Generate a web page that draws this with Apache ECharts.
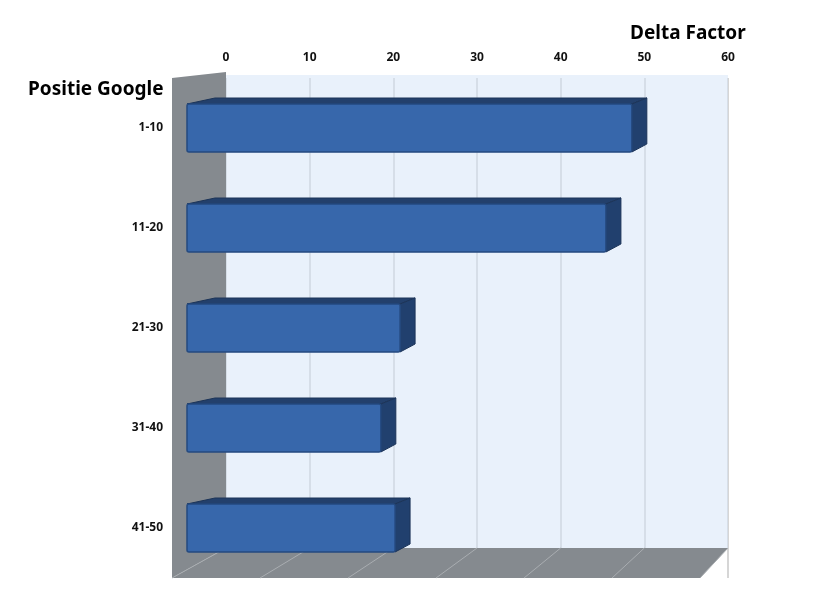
<!DOCTYPE html>
<html><head><meta charset="utf-8">
<script src="https://cdn.jsdelivr.net/npm/echarts@6/dist/echarts.min.js"></script>
<style>html,body{margin:0;padding:0;background:#fff}#c{width:834px;height:616px}</style>
</head><body><div id="c"></div>
<script>
const categories = ['1-10','11-20','21-30','31-40','41-50'];
const values = [50.3, 47.2, 22.6, 20.3, 22.0];
const xTicks = [0,10,20,30,40,50,60];

const chart = echarts.init(document.getElementById('c'));
const font = 'Noto Sans';
chart.setOption({
  animation:false,
  grid:{left:226,right:106,top:78,bottom:38},
  xAxis:{type:'value',position:'top',min:0,max:60,interval:10,
    axisLine:{show:false},axisTick:{show:false},
    axisLabel:{fontFamily:font,fontWeight:'bold',fontSize:12,color:'#111',margin:14},
    splitLine:{lineStyle:{color:'#c8c8c8',width:1.5}}},
  yAxis:{type:'category',data:categories,inverse:true,
    axisLine:{show:false},axisTick:{show:false},
    axisLabel:{fontFamily:font,fontWeight:'bold',fontSize:12,color:'#111',margin:63}},
  graphic:[
    {type:'text',left:630,top:24,style:{text:'Delta Factor',font:'bold 19px Noto Sans',fill:'#000'}},
    {type:'text',left:28,top:80,style:{text:'Positie Google',font:'bold 19px Noto Sans',fill:'#000'}}
  ],
  series:[{
    type:'custom',
    data:values.map((v,i)=>[v,i]),
    renderItem:(params,api)=>{
      const p0 = api.coord([0, api.value(1)]);
      const pv = api.coord([api.value(0), api.value(1)]);
      const yc = p0[1];
      const children=[];
      if(params.dataIndex===0){
        const L=api.coord([0,0])[0], R=api.coord([60,0])[0];
        const T=78, B=548, F=578;
        children.push({type:'rect',shape:{x:L,y:T-3,width:R-L,height:B-T+3},style:{fill:'rgba(215,230,248,0.55)'},z2:-10});
        children.push({type:'polygon',shape:{points:[[172,T],[L,T-6],[L,B],[172,F]]},style:{fill:'#858a8f'},z2:-5});
        children.push({type:'polygon',shape:{points:[[172,F],[L,B],[R,B],[700,F]]},style:{fill:'#858a8f'},z2:-5});
        const fs=(700-172)/60;
        xTicks.forEach(t=>{
          const bx=api.coord([t,0])[0];
          children.push({type:'line',shape:{x1:bx,y1:B,x2:172+fs*t,y2:F},style:{stroke:'#a9adb1',lineWidth:1},z2:-4});
        });
      }
      const xs=p0[0]-39, xe=pv[0]-15, xv=pv[0];
      children.push({type:'polygon',shape:{points:[[xs,yc-24],[xs+28,yc-30],[xv,yc-30],[xe,yc-24]]},style:{fill:'#23406c',stroke:'#1c3458',lineWidth:1}});
      children.push({type:'polygon',shape:{points:[[xe,yc-24],[xv,yc-30],[xv,yc+16],[xe,yc+24]]},style:{fill:'#21406e',stroke:'#1c3458',lineWidth:1}});
      children.push({type:'rect',shape:{x:xs,y:yc-24,width:xe-xs,height:48,r:2},style:{fill:'#3767ab',stroke:'#254a80',lineWidth:1.5}});
      return {type:'group',children};
    }
  }]
});
</script></body></html>
